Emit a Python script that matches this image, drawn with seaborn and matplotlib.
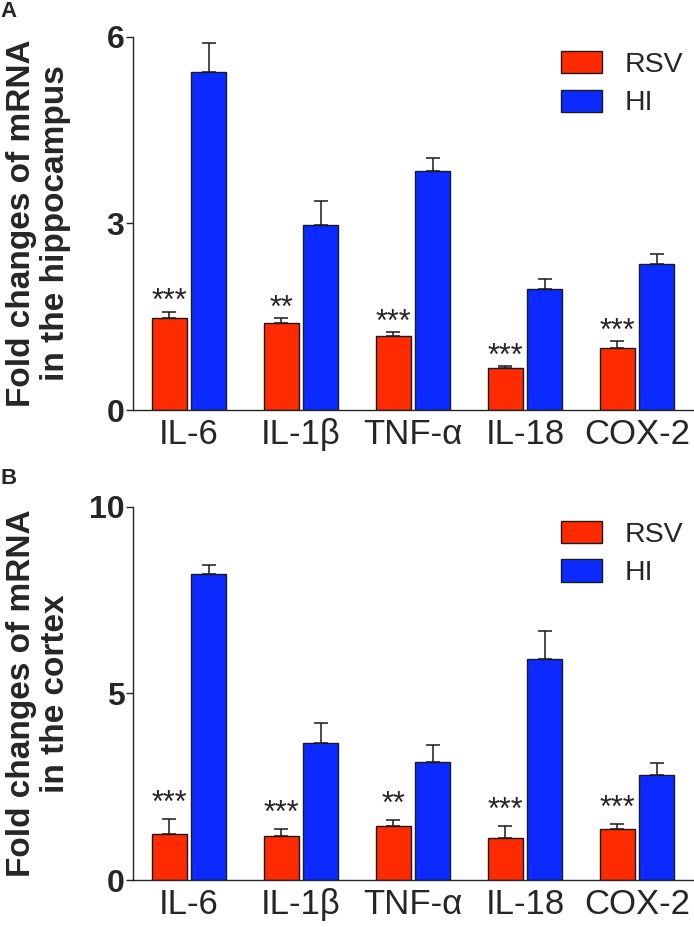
import pandas as pd
import matplotlib.pyplot as plt
import matplotlib.patches as mpatches
import seaborn as sns

# data (fold change, upper error = SEM)
genes = ["IL-6", "IL-1β", "TNF-α", "IL-18", "COX-2"]
groups = ["RSV", "HI"]

hippo_rsv = [1.48, 1.40, 1.19, 0.67, 1.00]
hippo_hi = [5.43, 2.97, 3.84, 1.95, 2.35]
hippo_rsv_err = [0.10, 0.08, 0.06, 0.04, 0.11]
hippo_hi_err = [0.47, 0.39, 0.21, 0.16, 0.16]
hippo_stars = ["***", "**", "***", "***", "***"]

cortex_rsv = [1.23, 1.18, 1.45, 1.13, 1.37]
cortex_hi = [8.20, 3.67, 3.16, 5.92, 2.82]
cortex_rsv_err = [0.40, 0.19, 0.16, 0.32, 0.13]
cortex_hi_err = [0.25, 0.54, 0.45, 0.75, 0.31]
cortex_stars = ["***", "***", "**", "***", "***"]

colors = {"RSV": "#ff2a00", "HI": "#0a2aff"}

sns.set_style("ticks")
plt.rcParams["font.family"] = ["Liberation Sans", "DejaVu Sans"]


def make_df(rsv, hi):
    rows = []
    for g, v in zip(genes, rsv):
        rows.append({"gene": g, "group": "RSV", "value": v})
    for g, v in zip(genes, hi):
        rows.append({"gene": g, "group": "HI", "value": v})
    return pd.DataFrame(rows)


def draw_panel(ax, rsv, hi, rsv_err, hi_err, stars, ymax, yticks, ylabel, star_off):
    df = make_df(rsv, hi)
    sns.barplot(data=df, x="gene", y="value", hue="group", order=genes,
                hue_order=groups, palette=colors, saturation=1, width=0.7,
                gap=0.1, edgecolor="#1a1a1a", linewidth=1.0, errorbar=None,
                legend=False, ax=ax)

    # one-sided error bars on top of each bar
    for cont, errs in zip(ax.containers, [rsv_err, hi_err]):
        xs = [b.get_x() + b.get_width() / 2 for b in cont]
        hs = [b.get_height() for b in cont]
        ax.errorbar(xs, hs, yerr=[[0] * len(errs), errs], fmt="none",
                    ecolor="#1a1a1a", elinewidth=1.1, capsize=4.8,
                    capthick=1.1, zorder=1)

    # significance marks above the RSV bars
    for b, e, s in zip(ax.containers[0], rsv_err, stars):
        ax.annotate(s, (b.get_x() + b.get_width() / 2, b.get_height() + e),
                    xytext=(0, star_off), textcoords="offset points",
                    ha="center", va="baseline", fontsize=22)

    ax.set_xlim(-0.5, 4.5)
    ax.set_ylim(0, ymax)
    ax.set_yticks(yticks)
    ax.set_xlabel("")
    ax.set_ylabel(ylabel, fontsize=24, fontweight="bold", linespacing=1.15)
    ax.yaxis.set_label_coords(-0.11, 0.5)
    ax.tick_params(axis="x", length=0, labelsize=25, pad=6)
    ax.tick_params(axis="y", length=4.7, width=1.0, labelsize=23, pad=1.5)
    for lab in ax.get_yticklabels():
        lab.set_fontweight("bold")
    for sp in ["top", "right"]:
        ax.spines[sp].set_visible(False)
    for sp in ["left", "bottom"]:
        ax.spines[sp].set_linewidth(1.0)

    handles = [mpatches.Patch(facecolor=colors[g], edgecolor="#1a1a1a",
                              linewidth=1.0, label=g) for g in groups]
    ax.legend(handles=handles, loc="upper left", bbox_to_anchor=(0.764, 0.962),
              frameon=False, fontsize=20.5, handlelength=1.45, handleheight=0.82,
              handletextpad=0.8, labelspacing=0.4, borderpad=0,
              borderaxespad=0)


fig = plt.figure(figsize=(6.94, 9.27), dpi=100)
ax1 = fig.add_axes([0.1916, 0.5577, 0.807, 0.4024])
ax2 = fig.add_axes([0.1916, 0.0507, 0.807, 0.4024])

draw_panel(ax1, hippo_rsv, hippo_hi, hippo_rsv_err, hippo_hi_err, hippo_stars,
           6, [0, 3, 6], "Fold changes of mRNA\nin the hippocampus", 1)
draw_panel(ax2, cortex_rsv, cortex_hi, cortex_rsv_err, cortex_hi_err, cortex_stars,
           10, [0, 5, 10], "Fold changes of mRNA\nin the cortex", 5)

fig.text(0.001, 0.999, "A", fontsize=16, fontweight="bold", ha="left", va="top")
fig.text(0.001, 0.495, "B", fontsize=16, fontweight="bold", ha="left", va="top")

fig.savefig("out.png", dpi=100)
